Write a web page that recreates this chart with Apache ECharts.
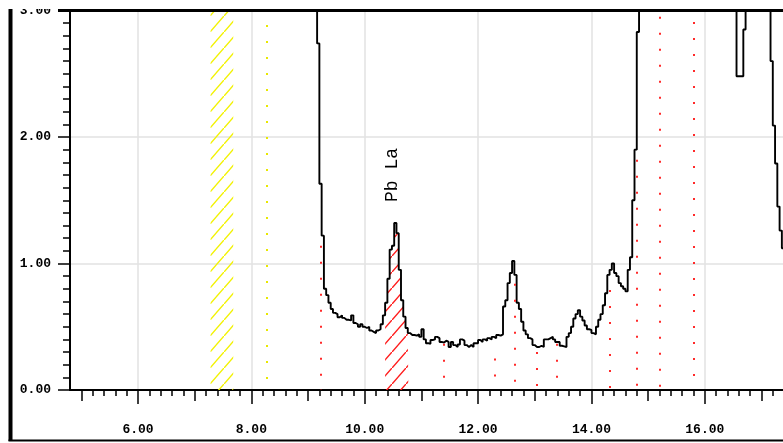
<!DOCTYPE html>
<html>
<head>
<meta charset="utf-8">
<style>
  html, body { margin: 0; padding: 0; background: #fff; }
  #chart { width: 783px; height: 443px; }
</style>
<script src="https://cdn.jsdelivr.net/npm/echarts@6/dist/echarts.min.js"></script>
</head>
<body>
<div id="chart"></div>
<script>
// ---- spectrum (keV, counts scaled); values above 3.0 are off-scale (clipped) ----
const energies = [
  4.80,
  9.12, 9.16, 9.20, 9.24, 9.28, 9.32, 9.36, 9.40, 9.44, 9.48,
  9.52, 9.56, 9.60, 9.64, 9.68, 9.72, 9.76, 9.80, 9.84, 9.88,
  9.92, 9.96, 10.00, 10.04, 10.08, 10.12, 10.16, 10.20, 10.24, 10.28,
  10.32, 10.36, 10.40, 10.44, 10.48, 10.52, 10.56, 10.60, 10.64, 10.68,
  10.72, 10.76, 10.80, 10.84, 10.88, 10.92, 10.96, 11.00, 11.04, 11.08,
  11.12, 11.16, 11.20, 11.24, 11.28, 11.32, 11.36, 11.40, 11.44, 11.48,
  11.52, 11.56, 11.60, 11.64, 11.68, 11.72, 11.76, 11.80, 11.84, 11.88,
  11.92, 11.96, 12.00, 12.04, 12.08, 12.12, 12.16, 12.20, 12.24, 12.28,
  12.32, 12.36, 12.40, 12.44, 12.48, 12.52, 12.56, 12.60, 12.64, 12.68,
  12.72, 12.76, 12.80, 12.84, 12.88, 12.92, 12.96, 13.00, 13.04, 13.08,
  13.12, 13.16, 13.20, 13.24, 13.28, 13.32, 13.36, 13.40, 13.44, 13.48,
  13.52, 13.56, 13.60, 13.64, 13.68, 13.72, 13.76, 13.80, 13.84, 13.88,
  13.92, 13.96, 14.00, 14.04, 14.08, 14.12, 14.16, 14.20, 14.24, 14.28,
  14.32, 14.36, 14.40, 14.44, 14.48, 14.52, 14.56, 14.60, 14.64, 14.68,
  14.72, 14.76, 14.80, 14.84,
  16.56, 16.60, 16.64, 16.68, 16.72,
  17.16, 17.20, 17.24, 17.28, 17.32, 17.36, 17.40
];
const counts = [
  3.6,
  3.6, 2.74, 1.63, 1.22, 0.80, 0.75, 0.69, 0.64, 0.61, 0.60,
  0.575, 0.59, 0.57, 0.555, 0.555, 0.55, 0.59, 0.53, 0.52, 0.50,
  0.52, 0.50, 0.49, 0.50, 0.47, 0.46, 0.45, 0.47, 0.48, 0.52,
  0.59, 0.69, 0.88, 1.11, 1.14, 1.32, 1.24, 0.95, 0.71, 0.58,
  0.49, 0.45, 0.435, 0.435, 0.43, 0.44, 0.42, 0.48, 0.40, 0.37,
  0.365, 0.395, 0.40, 0.42, 0.41, 0.38, 0.375, 0.39, 0.38, 0.34,
  0.38, 0.355, 0.34, 0.36, 0.40, 0.39, 0.355, 0.34, 0.355, 0.34,
  0.37, 0.37, 0.395, 0.38, 0.40, 0.39, 0.41, 0.40, 0.42, 0.41,
  0.435, 0.43, 0.44, 0.66, 0.71, 0.845, 0.925, 1.02, 0.91, 0.69,
  0.64, 0.54, 0.47, 0.44, 0.41, 0.40, 0.355, 0.34, 0.34, 0.35,
  0.34, 0.40, 0.40, 0.41, 0.42, 0.40, 0.38, 0.38, 0.35, 0.345,
  0.34, 0.42, 0.45, 0.50, 0.565, 0.60, 0.63, 0.58, 0.55, 0.51,
  0.48, 0.475, 0.45, 0.44, 0.50, 0.555, 0.60, 0.67, 0.765, 0.91,
  0.95, 1.00, 0.925, 0.90, 0.845, 0.82, 0.80, 0.78, 0.95, 1.05,
  1.50, 1.90, 2.83, 3.6,
  2.48, 2.48, 2.48, 2.85, 3.6,
  2.60, 2.09, 1.79, 1.45, 1.26, 1.12, 1.10
];

// ---- region of interest (hatched) ----
const roiNames = ['Pb La'];
const roiStart = [10.36];
const roiEnd = [10.77];
const roiLabelEnergy = [10.49];
const roiLabelLevel = [1.70];

// ---- yellow hatched band ----
const bandStart = [7.28];
const bandEnd = [7.68];

// ---- element marker lines (energy, height) ----
const redLineE = [9.22, 11.39, 12.29, 12.65, 13.03, 13.38, 14.33, 14.80, 15.20, 15.81];
const redLineTop = [1.14, 0.365, 0.25, 0.84, 0.30, 0.365, 0.79, 1.82, 2.95, 2.91];
const yellowLineE = [8.28];
const yellowLineTop = [2.885];

// ---- axis ticks ----
const xMajorTicks = [6, 8, 10, 12, 14, 16];
const xMidTicks = [5, 7, 9, 11, 13, 15, 17];
const xMinorTicks = [];
for (let i = 25; i <= 86; i++) xMinorTicks.push(i / 5);

const X_MIN = 4.8, X_MAX = 17.38;

function hatch(color) {
  const c = document.createElement('canvas');
  c.width = 14; c.height = 16;
  const g = c.getContext('2d');
  g.strokeStyle = color;
  g.lineWidth = 1.4;
  g.beginPath();
  g.moveTo(-7, 24); g.lineTo(21, -8);
  g.stroke();
  return c;
}
const yellowPat = { image: hatch('#f2f200'), repeat: 'repeat' };
const redPat = { image: hatch('#ff1a1a'), repeat: 'repeat' };

const spectrum = energies.map((e, i) => [e, counts[i]]);
const roiData = [];
for (let i = 0; i < energies.length; i++) {
  if (energies[i] >= roiStart[0] && energies[i] < roiEnd[0]) roiData.push([energies[i], counts[i]]);
}
roiData.push([roiEnd[0], roiData[roiData.length - 1][1]]);

const labelFont = { fontFamily: 'Liberation Mono', fontWeight: 'bold', fontSize: 13, color: '#000' };

const markLines = [];
redLineE.forEach((e, i) => markLines.push([
  { coord: [e, redLineTop[i]], lineStyle: { color: '#ff2a2a' } },
  { coord: [e, 0] }
]));
yellowLineE.forEach((e, i) => markLines.push([
  { coord: [e, yellowLineTop[i]], lineStyle: { color: '#e8e800' } },
  { coord: [e, 0] }
]));

const chart = echarts.init(document.getElementById('chart'), null, { renderer: 'canvas' });
chart.setOption({
  animation: false,
  backgroundColor: '#fff',
  grid: { left: 70, right: 0, top: 10.5, bottom: 53, containLabel: false },
  xAxis: [
    {
      type: 'value', min: X_MIN, max: X_MAX,
      axisLine: { show: true, onZero: false, lineStyle: { color: '#000', width: 2 } },
      axisTick: { show: true, customValues: xMajorTicks, length: 14, lineStyle: { color: '#000', width: 1.5 } },
      axisLabel: { show: true, customValues: xMajorTicks, margin: 33, formatter: v => v.toFixed(2), ...labelFont },
      splitLine: { show: true, lineStyle: { color: '#e2e2e2', width: 1.5 } }
    },
    {
      type: 'value', min: X_MIN, max: X_MAX, position: 'bottom',
      axisLine: { show: false, onZero: false },
      axisTick: { show: true, customValues: xMidTicks, length: 11, lineStyle: { color: '#000', width: 1.5 } },
      axisLabel: { show: false },
      splitLine: { show: false }
    },
    {
      type: 'value', min: X_MIN, max: X_MAX, position: 'bottom',
      axisLine: { show: false, onZero: false },
      axisTick: { show: true, customValues: xMinorTicks, length: 6, lineStyle: { color: '#000', width: 1.5 } },
      axisLabel: { show: false },
      splitLine: { show: false }
    }
  ],
  yAxis: {
    type: 'value', min: 0, max: 3, interval: 1,
    axisLine: { show: true, lineStyle: { color: '#000', width: 2 } },
    axisTick: { show: true, length: 12, lineStyle: { color: '#000', width: 1.5 } },
    minorTick: { show: true, splitNumber: 10, length: 7, lineStyle: { color: '#000', width: 1.5 } },
    axisLabel: { margin: 19, formatter: v => v.toFixed(2), ...labelFont },
    splitLine: { show: true, lineStyle: { color: '#e2e2e2', width: 1.5 } }
  },
  series: [
    {
      type: 'line', name: 'roi', data: roiData, step: 'end',
      showSymbol: false, symbol: 'none', silent: true,
      lineStyle: { width: 0, opacity: 0 },
      areaStyle: { color: redPat, opacity: 1 },
      z: 1,
      markPoint: {
        silent: true,
        symbol: 'circle', symbolSize: 1,
        itemStyle: { color: 'rgba(0,0,0,0)' },
        label: {
          show: true, position: 'inside', rotate: 90,
          fontFamily: 'Liberation Mono', fontSize: 18, color: '#000',
          formatter: p => p.name
        },
        data: roiNames.map((n, i) => ({ name: n, coord: [roiLabelEnergy[i], roiLabelLevel[i]] }))
      }
    },
    {
      type: 'line', name: 'spectrum', data: spectrum, step: 'end',
      showSymbol: false, symbol: 'none', silent: true, clip: true,
      lineStyle: { color: '#000', width: 1.9 },
      z: 3,
      markArea: {
        silent: true,
        itemStyle: { color: yellowPat },
        data: bandStart.map((s, i) => [{ xAxis: s }, { xAxis: bandEnd[i] }])
      },
      markLine: {
        silent: true,
        symbol: ['none', 'none'],
        label: { show: false },
        lineStyle: { type: [2, 14], width: 2 },
        data: markLines
      }
    }
  ],
  graphic: [
    { type: 'rect', z: 100, shape: { x: 0, y: 0, width: 783, height: 9 }, style: { fill: '#fff' } },
    { type: 'line', z: 101, shape: { x1: 58, y1: 10.5, x2: 783, y2: 10.5 }, style: { stroke: '#000', lineWidth: 3 } },
    { type: 'rect', z: 101, shape: { x: 8.5, y: 9, width: 4, height: 432 }, style: { fill: '#000' } },
    { type: 'line', z: 101, shape: { x1: 8.5, y1: 440.5, x2: 783, y2: 440.5 }, style: { stroke: '#000', lineWidth: 2 } }
  ]
});
</script>
</body>
</html>
